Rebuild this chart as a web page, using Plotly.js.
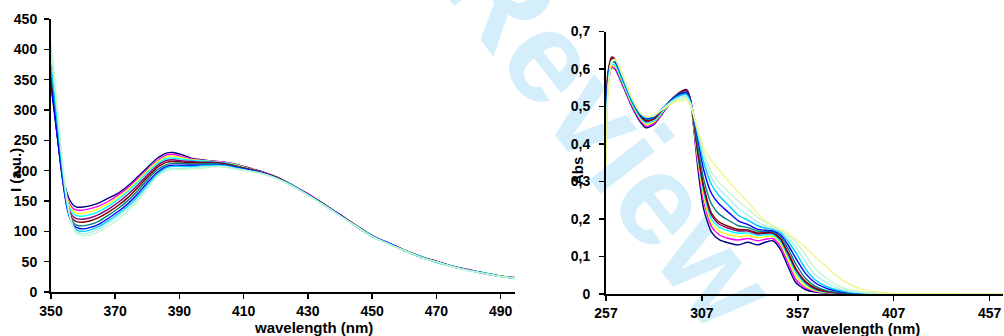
<!DOCTYPE html>
<html><head><meta charset="utf-8">
<script src="https://cdn.plot.ly/plotly-3.0.1.min.js"></script>
<style>html,body{margin:0;padding:0;background:#fff}#chart{width:1004px;height:336px}</style>
</head><body><div id="chart"></div>
<script>
// ---------- colours (Excel default series order) ----------
const seriesColors = ['#000080','#ff00ff','#ffff00','#00ffff','#800080','#800000','#008080','#0000ff','#00ccff','#a8f0f0','#c4f7cc','#f2f58c'];

// ---------- left panel: emission spectra ----------
const emWavelength = [350,351,352,353,354,355,356,357,358,360,362,365,368,371,374,377,380,383,386,388,391,394,397,400,404,408,412,
                      416,420,425,430,435,440,445,450,455,460,465,470,475,480,485,490,494.5];
const em1  = [345,300,255,215,185,163,150,143,140,140,142,147,155,163,175,190,205,220,229,230,226,220,218,216,214,210,204, 198,190,177,161,145,127,110,93,80,69,59,50,42,36,31,26,23];
const em2  = [352,305,258,216,182,158,144,137,135,135,137,142,150,160,172,187,202,216,226,227,223,219,217,216,214,209,203, 197,189,176,162,144,128,109,92,81,69,58,51,42,37,31,26,23];
const em3  = [358,310,262,218,180,154,140,133,130,130,132,138,146,157,169,184,200,214,223,224,221,218,217,215,213,209,203, 197,190,176,161,143,127,110,92,80,70,58,50,43,36,31,27,23];
const em4  = [362,315,266,220,180,151,136,129,126,125,127,133,142,153,166,181,197,211,220,221,219,217,216,215,213,208,202, 196,189,177,160,144,126,109,93,80,69,59,50,42,36,32,26,23];
const em5  = [356,308,260,214,175,147,131,124,121,120,122,128,137,148,161,176,193,208,217,218,216,215,214,214,212,207,202, 197,189,176,161,144,127,109,92,81,69,58,50,42,37,31,26,24];
const em6  = [352,304,256,210,171,143,127,119,116,115,117,123,132,143,156,172,189,205,214,215,214,213,213,213,211,207,202, 196,190,176,161,145,127,110,92,80,69,58,51,42,36,31,26,23];
const em7  = [366,318,268,218,174,142,124,114,110,109,111,117,127,138,151,167,185,201,210,212,212,211,211,212,210,206,201, 196,188,176,160,144,126,109,93,80,68,58,50,43,36,31,26,23];
const em8  = [340,298,255,210,170,138,120,110,106,104,106,112,122,133,146,162,180,197,207,209,209,209,209,210,209,205,201, 196,189,175,161,143,127,108,92,81,69,57,50,42,36,30,26,23];
const em9  = [375,328,278,226,180,143,121,108,102,100,102,108,118,129,142,158,176,194,205,207,207,207,208,209,208,204,200, 195,188,176,160,144,126,109,91,80,69,58,49,42,36,31,26,22];
const em10 = [395,345,292,238,188,148,122,106,99,96,98,104,114,125,138,154,173,191,202,204,204,205,206,207,207,203,199, 195,188,175,160,143,126,109,92,80,68,58,50,42,35,31,25,23];
const em11 = [410,360,303,246,195,153,124,106,97,93,94,100,109,120,134,150,170,190,200,202,202,203,204,206,206,202,199, 194,187,175,159,143,125,108,91,79,69,57,50,41,36,30,26,23];
const emSeries = [em1,em2,em3,em4,em5,em6,em7,em8,em9,em10,em11];
const emTicks = [350,370,390,410,430,450,470,490];
const intensityTicks = [0,50,100,150,200,250,300,350,400,450];

// ---------- right panel: absorption spectra ----------
const absWavelength = [257,258,260,262,265,270,275,278,282,287,292,296,299,301,303,305,308,312,316,321,326,331,336,340,344,348,352,356,361,366,372,378,385,392,400,410,430,464];
const ab1  = [0.40,0.55,0.605,0.598,0.565,0.505,0.458,0.443,0.452,0.485,0.518,0.538,0.545,0.52,0.43,0.33,0.225,0.165,0.145,0.136,0.131,0.138,0.131,0.138,0.142,0.118,0.072,0.03,0.012,0.005,0.002,0.001,0,0,0,0,0,0];
const ab2  = [0.42,0.56,0.605,0.60,0.568,0.508,0.462,0.447,0.455,0.487,0.517,0.534,0.538,0.515,0.435,0.345,0.245,0.18,0.158,0.148,0.144,0.148,0.142,0.146,0.148,0.126,0.082,0.038,0.016,0.007,0.003,0.001,0,0,0,0,0,0];
const ab3  = [0.43,0.565,0.61,0.605,0.572,0.512,0.466,0.452,0.459,0.489,0.517,0.532,0.535,0.513,0.44,0.355,0.258,0.19,0.168,0.158,0.153,0.156,0.15,0.153,0.154,0.134,0.092,0.048,0.021,0.009,0.004,0.002,0.001,0,0,0,0,0];
const ab4  = [0.44,0.57,0.613,0.608,0.575,0.515,0.469,0.456,0.462,0.49,0.517,0.531,0.533,0.512,0.445,0.365,0.27,0.2,0.178,0.168,0.162,0.163,0.156,0.158,0.158,0.14,0.1,0.058,0.027,0.012,0.005,0.002,0.001,0,0,0,0,0];
const ab5  = [0.45,0.585,0.628,0.62,0.585,0.522,0.474,0.46,0.466,0.495,0.523,0.54,0.545,0.52,0.45,0.37,0.28,0.21,0.186,0.175,0.168,0.168,0.16,0.162,0.162,0.145,0.106,0.064,0.031,0.014,0.006,0.002,0.001,0,0,0,0,0];
const ab6  = [0.46,0.59,0.632,0.624,0.588,0.525,0.476,0.462,0.468,0.496,0.523,0.539,0.542,0.518,0.452,0.375,0.287,0.216,0.192,0.18,0.172,0.171,0.163,0.164,0.164,0.148,0.11,0.068,0.034,0.016,0.007,0.003,0.001,0,0,0,0,0];
const ab7  = [0.44,0.58,0.622,0.617,0.584,0.522,0.477,0.466,0.471,0.497,0.522,0.536,0.538,0.517,0.46,0.39,0.305,0.24,0.213,0.196,0.182,0.177,0.168,0.167,0.166,0.153,0.12,0.08,0.042,0.021,0.009,0.004,0.002,0.001,0,0,0,0];
const ab8  = [0.43,0.575,0.62,0.616,0.583,0.522,0.478,0.468,0.472,0.497,0.521,0.534,0.536,0.516,0.468,0.41,0.33,0.268,0.24,0.217,0.195,0.185,0.173,0.17,0.168,0.158,0.13,0.095,0.055,0.03,0.015,0.007,0.003,0.001,0,0,0,0];
const ab9  = [0.38,0.56,0.62,0.62,0.586,0.524,0.48,0.47,0.474,0.497,0.519,0.53,0.532,0.513,0.47,0.42,0.35,0.292,0.262,0.236,0.21,0.197,0.182,0.176,0.172,0.164,0.14,0.11,0.067,0.038,0.02,0.01,0.004,0.002,0.001,0,0,0];
const ab10 = [0.36,0.545,0.622,0.624,0.59,0.526,0.482,0.472,0.476,0.496,0.516,0.525,0.526,0.51,0.472,0.428,0.365,0.31,0.28,0.255,0.228,0.21,0.192,0.182,0.176,0.168,0.15,0.125,0.085,0.052,0.03,0.015,0.006,0.003,0.001,0,0,0];
const ab11 = [0.35,0.54,0.622,0.626,0.592,0.528,0.483,0.472,0.476,0.495,0.513,0.521,0.522,0.507,0.474,0.436,0.378,0.325,0.297,0.272,0.248,0.227,0.205,0.192,0.182,0.172,0.158,0.138,0.105,0.068,0.042,0.022,0.01,0.004,0.002,0,0,0];
const ab12 = [0.34,0.53,0.618,0.625,0.594,0.53,0.484,0.473,0.476,0.494,0.51,0.516,0.517,0.502,0.47,0.435,0.39,0.355,0.33,0.3,0.272,0.245,0.215,0.196,0.18,0.172,0.16,0.146,0.125,0.1,0.072,0.045,0.024,0.011,0.004,0.001,0.001,0];
const absSeries = [ab1,ab2,ab3,ab4,ab5,ab6,ab7,ab8,ab9,ab10,ab11,ab12];
const absTicks = [257,307,357,407,457];
const absYTicks = [0,0.1,0.2,0.3,0.4,0.5,0.6,0.7];
const absYTickText = ['0','0,1','0,2','0,3','0,4','0,5','0,6','0,7'];

// ---------- build traces ----------
const traces = [];
emSeries.forEach((s, i) => {
  traces.push({type:'scatter', mode:'lines', x: emWavelength, y: s,
    xaxis:'x', yaxis:'y', line:{color: seriesColors[i], width:1.4, shape:'spline', smoothing:0.5},
    showlegend:false, hoverinfo:'skip'});
});
absSeries.forEach((s, i) => {
  traces.push({type:'scatter', mode:'lines', x: absWavelength, y: s,
    xaxis:'x2', yaxis:'y2', line:{color: seriesColors[i], width:1.4, shape:'spline', smoothing:0.6},
    showlegend:false, hoverinfo:'skip'});
});

const W = 1004, H = 336;
const px = v => v / W, py = v => 1 - v / H;
const fam = 'Liberation Sans, Arial, sans-serif';
const tickFont = {family:fam, size:14, color:'#000', weight:'bold'};
const titleFont = {family:fam, size:15, color:'#000', weight:'bold'};
const axisCommon = {showgrid:false, zeroline:false, showline:true, linecolor:'#000', linewidth:2,
  ticks:'outside', ticklen:5, tickwidth:1.5, tickcolor:'#000', tickfont:tickFont, automargin:false, fixedrange:true};

const layout = {
  width: W, height: H,
  margin:{l:0, r:0, t:0, b:0, pad:0},
  paper_bgcolor:'#fff', plot_bgcolor:'rgba(0,0,0,0)',
  showlegend:false,
  xaxis: Object.assign({}, axisCommon, {domain:[px(51), px(515)], range:[350, 494.5],
    tickmode:'array', tickvals: emTicks, anchor:'y'}),
  yaxis: Object.assign({}, axisCommon, {domain:[1 - 292/H, 1 - 19/H], range:[0, 450],
    tickmode:'array', tickvals: intensityTicks, anchor:'x', ticklabelstandoff:4}),
  xaxis2: Object.assign({}, axisCommon, {domain:[px(606), px(1003)], range:[257, 464],
    tickmode:'array', tickvals: absTicks, anchor:'y2'}),
  yaxis2: Object.assign({}, axisCommon, {domain:[1 - 294/H, 1 - 31.5/H], range:[0, 0.7],
    tickmode:'array', tickvals: absYTicks, ticktext: absYTickText, anchor:'x2', ticklabelstandoff:6}),
  shapes: [{
    type:'rect', xref:'paper', yref:'paper', x0: px(580), x1: px(660), y0: py(166), y1: py(86),
    line:{width:0}, fillcolor:'rgba(0,0,0,0)', layer:'below',
    label:{text:'Review', textangle:52, textposition:'middle center',
      font:{family:fam, size:130, color:'#d4eefb', weight:'bold'}}
  }],
  annotations: [
    {text:'wavelength (nm)', xref:'paper', yref:'paper', x: px(313), y: py(327), showarrow:false,
     xanchor:'center', yanchor:'middle', font:titleFont},
    {text:'wavelength (nm)', xref:'paper', yref:'paper', x: px(860), y: py(328), showarrow:false,
     xanchor:'center', yanchor:'middle', font:titleFont},
    {text:'I (a.u.)', xref:'paper', yref:'paper', x: px(15), y: py(170), showarrow:false, textangle:-90,
     xanchor:'center', yanchor:'middle', font:titleFont},
    {text:'Abs', xref:'paper', yref:'paper', x: px(577), y: py(171), showarrow:false, textangle:-90,
     xanchor:'center', yanchor:'middle', font:titleFont}
  ]
};

Plotly.newPlot('chart', traces, layout, {staticPlot:true, displayModeBar:false});
</script>
</body></html>
